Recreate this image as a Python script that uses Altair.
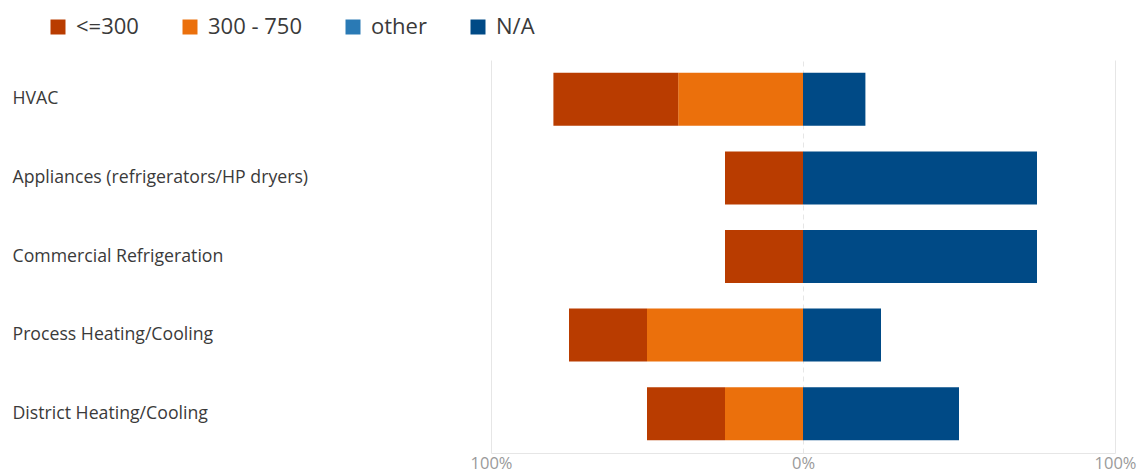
import altair as alt
import pandas as pd

categories = ["HVAC", "Appliances (refrigerators/HP dryers)", "Commercial Refrigeration",
              "Process Heating/Cooling", "District Heating/Cooling"]
le300 = [40, 25, 25, 25, 25]
r300_750 = [40, 0, 0, 50, 25]
other = [0, 0, 0, 0, 0]
na = [20, 75, 75, 25, 50]

series = ["<=300", "300 - 750", "other", "N/A"]
colors = ["#B93C00", "#EB700C", "#2A7AB5", "#004A86"]

rows = []
for i, c in enumerate(categories):
    # negative side: 300-750 next to zero, <=300 outermost
    a = r300_750[i]
    b = le300[i]
    rows.append(dict(cat=c, series="300 - 750", x=-a, x2=0, v=a))
    rows.append(dict(cat=c, series="<=300", x=-(a + b), x2=-a, v=b))
    rows.append(dict(cat=c, series="other", x=0, x2=other[i], v=other[i]))
    rows.append(dict(cat=c, series="N/A", x=other[i], x2=other[i] + na[i], v=na[i]))
df = pd.DataFrame(rows)

font = "Open Sans"

chart = alt.Chart(df).mark_bar(size=53).encode(
    y=alt.Y("cat:N", sort=categories, title=None,
            scale=alt.Scale(paddingInner=0.33, paddingOuter=0.165),
            axis=alt.Axis(labelAlign="left", labelPadding=479, ticks=False, domain=False,
                          labelFont=font, labelFontSize=17.7, labelColor="#3a3a3a",
                          labelLimit=400)),
    x=alt.X("x:Q", title=None, scale=alt.Scale(domain=[-100, 100], nice=False),
            axis=alt.Axis(values=[-100, 0, 100], labelExpr="abs(datum.value) + '%'",
                          ticks=False, domainColor="#e6e6e6", gridColor="#e6e6e6",
                          gridDash=alt.condition("datum.value == 0", alt.value([5, 4]), alt.value([])),
                          labelFont=font, labelFontSize=16.5, labelColor="#9a9a9a",
                          labelPadding=2, labelFlush=False)),
    x2="x2:Q",
    color=alt.Color("series:N", scale=alt.Scale(domain=series, range=colors),
                    legend=alt.Legend(title=None, orient="none", legendX=-444, legendY=-44,
                                      direction="horizontal", symbolType="square",
                                      symbolSize=225, symbolStrokeWidth=0,
                                      labelFont=font, labelFontSize=22, labelColor="#3a3a3a",
                                      columnPadding=40, labelOffset=7)),
).properties(
    width=624, height=393,
    padding={"left": 12, "top": 16, "right": 5, "bottom": 0}
).configure_view(strokeWidth=0, stroke="transparent")

chart.save("out.html", embed_options={"renderer": "svg", "actions": False})
